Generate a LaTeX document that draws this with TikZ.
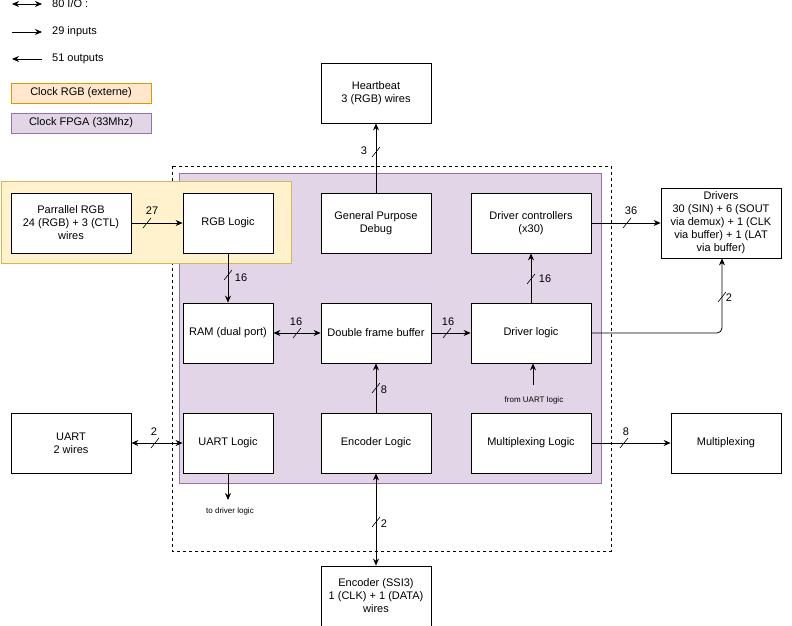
\documentclass[tikz,border=0pt]{standalone}
\usepackage{fontspec}
\setmainfont{Liberation Sans}
\usetikzlibrary{arrows.meta,calc}
\definecolor{purf}{HTML}{E1D5E7}\definecolor{purd}{HTML}{9673A6}
\definecolor{orf}{HTML}{FFE6CC}\definecolor{ord}{HTML}{D79B00}
\definecolor{yef}{HTML}{FFF2CC}\definecolor{yed}{HTML}{D6B656}
\begin{document}
\begin{tikzpicture}[x=1pt,y=-1pt,
  box/.style={draw,fill=white,line width=0.8pt,inner sep=1pt,align=center,font=\fontsize{11}{13}\selectfont},
  lbl/.style={font=\fontsize{11}{13}\selectfont,inner sep=0pt},
  sm/.style={font=\fontsize{8}{10}\selectfont,inner sep=0pt},
  ar/.style={line width=0.8pt,-{Stealth[length=7pt,width=6pt]}},
  bar/.style={line width=0.8pt,{Stealth[length=7pt,width=6pt]}-{Stealth[length=7pt,width=6pt]}}]
\useasboundingbox (0,0) rectangle (792,626);
\newcommand{\bslash}[1]{\draw[line width=0.6pt] ($(#1)+(-4,5)$) -- ($(#1)+(4,-5)$);}
% legend
\coordinate (l1a) at (12,4);\coordinate (l1b) at (42,4);
\draw[bar] (l1a) -- (l1b); \node[lbl,anchor=west] (t1) at (52,4) {80 I/O :};
\coordinate (l2a) at (12,32);\coordinate (l2b) at (42,32);
\draw[ar] (l2a) -- (l2b); \node[lbl,anchor=west] (t2) at (52,32) {29 inputs};
\coordinate (l3a) at (42,59);\coordinate (l3b) at (12,59);
\draw[ar] (l3a) -- (l3b); \node[lbl,anchor=west] (t3) at (52,59) {51 outputs};
\node[box,draw=ord,fill=orf,minimum width=140,minimum height=20] (crgb) at (81,93) {Clock RGB (externe)};
\node[box,draw=purd,fill=purf,minimum width=140,minimum height=20] (cfpga) at (81,123) {Clock FPGA (33Mhz)};
% regions
\draw[line width=0.8pt,dashed] (172,166) rectangle (611,551);
\draw[draw=purd,fill=purf,line width=0.8pt] (179,173) rectangle (601,483);
\draw[draw=yed,fill=yef,line width=0.8pt] (1,181) rectangle (291,263);
% boxes
\tikzset{b90/.style={box,minimum width=90,minimum height=60},
         b110/.style={box,minimum width=110,minimum height=60},
         b120/.style={box,minimum width=120,minimum height=60}}
\node[b120] (prgb) at (71,223) {Parrallel RGB\\24 (RGB) + 3 (CTL)\\wires};
\node[b90] (rgbl) at (228,223) {RGB Logic};
\node[b110] (gpd) at (376,223) {General Purpose\\Debug};
\node[b120] (dc) at (531,223) {Driver controllers\\(x30)};
\node[box,minimum width=120,minimum height=70,inner sep=0pt] (drv) at (721,223) {Drivers\\30 (SIN) + 6 (SOUT\\via demux) + 1 (CLK\\via buffer) + 1 (LAT\\via buffer)};
\node[b110] (hb) at (376,93) {Heartbeat\\3 (RGB) wires};
\node[b90] (ram) at (228,333) {RAM (dual port)};
\node[b110] (dfb) at (376,333) {Double frame buffer};
\node[b120] (dl) at (531,333) {Driver logic};
\node[b120] (uart) at (71,443) {UART\\2 wires};
\node[b90] (ul) at (228,443) {UART Logic};
\node[b110] (el) at (376,443) {Encoder Logic};
\node[b120] (ml) at (531,443) {Multiplexing Logic};
\node[b110] (mux) at (726,443) {Multiplexing};
\node[b110] (enc) at (376,596) {Encoder (SSI3)\\1 (CLK) + 1 (DATA)\\wires};
% connectors
\draw[ar] (prgb) -- (rgbl); \bslash{147,223} \node[lbl] (n27) at (152,211) {27};
\draw[ar] (rgbl) -- (ram); \bslash{228,275} \node[lbl] (n16a) at (241,278) {16};
\draw[bar] (ram) -- (dfb); \bslash{297,333} \node[lbl] (n16b) at (296,322) {16};
\draw[ar] (dfb) -- (dl); \bslash{447,333} \node[lbl] (n16c) at (448,322) {16};
\draw[ar] (dl) -- (dc); \bslash{531,279} \node[lbl] (n16d) at (545,279) {16};
\draw[ar] (dc) -- (drv.west |- dc); \bslash{627,223} \node[lbl] (n36) at (631,211) {36};
\draw[ar,rounded corners=5pt] (dl.east) -| (drv.south -| 722,0); \bslash{722,297} \node[lbl] (n2a) at (729,298) {2};
\draw[ar] (gpd) -- (hb); \bslash{376,152} \node[lbl] (n3) at (364,151) {3};
\draw[ar] (el) -- (dfb); \bslash{376,388} \node[lbl] (n8a) at (384,390) {8};
\draw[bar] (uart) -- (ul); \bslash{155,443} \node[lbl] (n2b) at (154,432) {2};
\draw[ar] (ml) -- (mux); \bslash{624,443} \node[lbl] (n8b) at (626,432) {8};
\draw[bar] (el) -- (enc); \bslash{376,522} \node[lbl] (n2c) at (384,524) {2};
\coordinate (tdl) at (228,500);
\draw[ar] (ul) -- (tdl); \node[sm] (tdlt) at (230,511) {to driver logic};
\coordinate (ful) at (533,385);
\draw[ar] (ful) -- (ful |- dl.south); \node[sm] (fult) at (534,400) {from UART logic};
\end{tikzpicture}
\end{document}
